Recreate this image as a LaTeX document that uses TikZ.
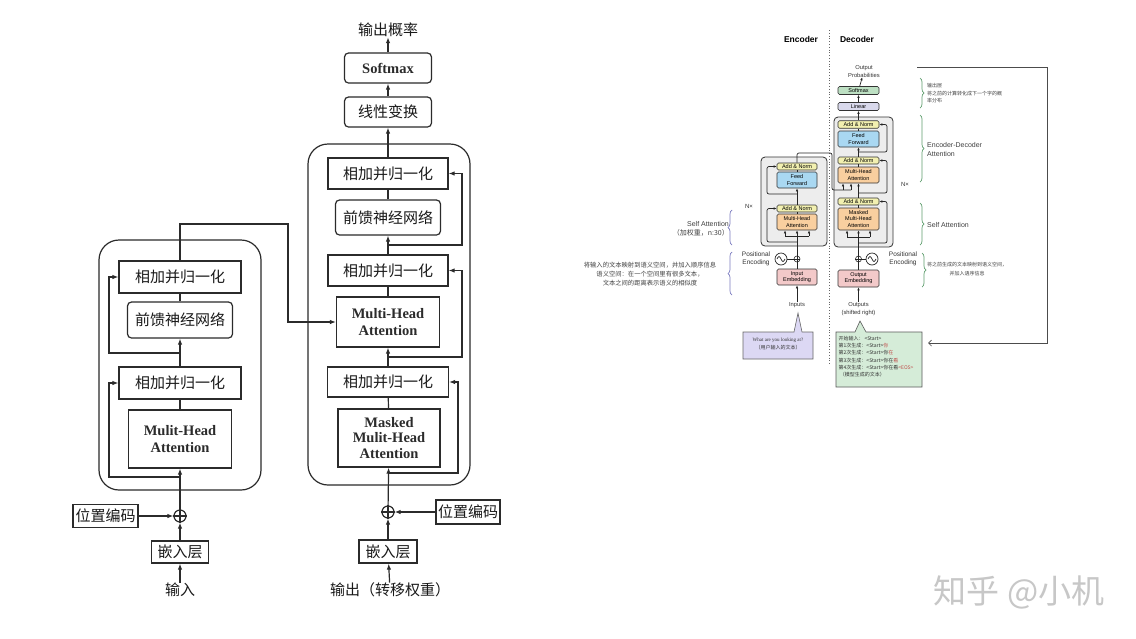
\documentclass[tikz,border=0pt]{standalone}
\usepackage{fontspec}
\setmainfont{Liberation Serif}
\newfontfamily\cjk{Noto Sans CJK SC}
\newfontfamily\rsans{Liberation Sans}
\usetikzlibrary{arrows.meta,decorations.pathreplacing,calc}
\definecolor{lc}{HTML}{2B2B2B}
\definecolor{anc}{HTML}{F2F0B0}
\definecolor{ffc}{HTML}{A9D8F2}
\definecolor{mhc}{HTML}{F9CF9F}
\definecolor{embc}{HTML}{F3C9C9}
\definecolor{smc}{HTML}{BDE0C3}
\definecolor{linc}{HTML}{D9D9EC}
\definecolor{contc}{HTML}{EDEDED}
\definecolor{brg}{HTML}{5F9E6E}
\definecolor{brb}{HTML}{7B7BC0}
\definecolor{pcall}{HTML}{DCD8F4}
\definecolor{gcall}{HTML}{D5ECD8}
\definecolor{tokred}{HTML}{C0504D}
\begin{document}
\begin{tikzpicture}[x=1pt,y=-1pt,
  sz/.style 2 args={minimum width=#1pt,minimum height=#2pt},
  L/.style={draw=lc,line width=1.2pt,inner sep=0pt,align=center},
  Lcn/.style={font=\cjk\fontsize{15}{18}\selectfont,text=black!90},
  Len/.style={font=\bfseries\fontsize{14.5}{17}\selectfont,text=lc},
  Len3/.style={font=\bfseries\fontsize{14.5}{15.5}\selectfont,text=lc},
  lline/.style={draw=lc,line width=1.2pt},
  larr/.style={lline,-{Latex[length=6pt,width=4.5pt]}},
  R/.style={draw=black!80,line width=0.6pt,rounded corners=1.5pt,inner sep=0pt,align=center,font=\rsans\fontsize{5.5}{6.2}\selectfont},
  Rt/.style={align=center,inner sep=0pt,font=\rsans\fontsize{5.8}{8}\selectfont,text=black!80},
  rline/.style={draw=black!85,line width=0.7pt},
  rarr/.style={rline,-{Latex[length=3pt,width=2.5pt]}},
  brR/.style={draw=brg,line width=0.7pt,decorate,decoration={brace,amplitude=4pt}},
  brL/.style={draw=brb,line width=0.7pt,decorate,decoration={brace,amplitude=4pt}}]
\fill[white] (0,0) rectangle (1136,638);
\useasboundingbox (0,0) rectangle (1136,638);

% ================= LEFT DIAGRAM =================
% decoder side
\node[L,sz={162}{341},rounded corners=20pt] (ldcont) at (389,314.5) {};
\node[Lcn,inner sep=0pt] (lprob) at (388,30) {输出概率};
\node[L,Len,rounded corners=4pt,sz={87}{30}] (lsm) at (388,68) {Softmax};
\node[L,Lcn,rounded corners=4pt,sz={87}{30}] (llin) at (388,112) {线性变换};
\node[L,Lcn,sz={120}{31}] (ldan1) at (388,173.5) {相加并归一化};
\node[L,Lcn,rounded corners=4pt,sz={105}{35}] (ldff) at (388,217.5) {前馈神经网络};
\node[L,Lcn,sz={120}{31}] (ldan2) at (388,270.5) {相加并归一化};
\node[L,Len,sz={103}{50}] (ldmha) at (388,322) {Multi-Head\\Attention};
\node[L,Lcn,sz={121}{30}] (ldan3) at (388,382) {相加并归一化};
\node[L,Len3,sz={102}{58}] (ldmm) at (389,438) {Masked\\Mulit-Head\\Attention};
\node[L,circle,minimum size=12pt] (ldplus) at (388,512) {};
\node[L,Lcn,sz={64}{24}] (ldpos) at (468,512) {位置编码};
\node[L,Lcn,sz={58}{23}] (ldemb) at (388,551.5) {嵌入层};
\node[Lcn,inner sep=0pt] (ldout) at (390,590) {输出（转移权重）};

% encoder side
\node[L,sz={162}{250},rounded corners=20pt] (lecont) at (180,365) {};
\node[L,Lcn,sz={122}{32}] (lean1) at (180,277) {相加并归一化};
\node[L,Lcn,rounded corners=4pt,sz={105}{36}] (leff) at (180,320) {前馈神经网络};
\node[L,Lcn,sz={122}{32}] (lean2) at (180,383) {相加并归一化};
\node[L,Len,sz={103}{58}] (lemha) at (180,439) {Mulit-Head\\Attention};
\node[L,circle,minimum size=12pt] (leplus) at (180,516) {};
\node[L,Lcn,sz={65}{23}] (lepos) at (105.5,516) {位置编码};
\node[L,Lcn,sz={57}{22}] (leemb) at (180,552) {嵌入层};
\node[Lcn,inner sep=0pt] (lein) at (180,590) {输入};

\draw[lline] (leplus.north) -- (leplus.south) (leplus.west) -- (leplus.east);
\draw[lline] (ldplus.north) -- (ldplus.south) (ldplus.west) -- (ldplus.east);

% encoder connectors
\draw[larr] (lein) -- (leemb);
\draw[larr] (leemb) -- (leplus);
\draw[larr] (lepos) -- (leplus);
\draw[larr] (leplus) -- (lemha);
\draw[lline] (lemha) -- (lean2);
\draw[larr] (lean2) -- (leff);
\draw[lline] (leff) -- (lean1);
\coordinate (ler2) at (180,477); \coordinate (ler2b) at (109,477);
\draw[larr] (ler2) -- (ler2b) |- (lean2);
\coordinate (ler1) at (180,353); \coordinate (ler1b) at (109,353);
\draw[larr] (ler1) -- (ler1b) |- (lean1);
\coordinate (le1) at (180,224); \coordinate (le2) at (288,224);
\draw[larr] (lean1) -- (le1) -- (le2) |- (ldmha);

% decoder connectors
\draw[larr] (ldout) -- (ldemb);
\draw[larr] (ldemb) -- (ldplus);
\draw[larr] (ldpos) -- (ldplus);
\draw[larr] (ldplus) -- (ldmm);
\draw[lline] (ldmm) -- (ldan3);
\draw[larr] (ldan3) -- (ldmha);
\draw[lline] (ldmha) -- (ldan2);
\draw[larr] (ldan2) -- (ldff);
\draw[lline] (ldff) -- (ldan1);
\draw[larr] (ldan1) -- (llin);
\draw[larr] (llin) -- (lsm);
\draw[larr] (lsm) -- (lprob);
\coordinate (ldr3) at (388,473); \coordinate (ldr3b) at (458,473);
\draw[larr] (ldr3) -- (ldr3b) |- (ldan3);
\coordinate (ldr2) at (388,357); \coordinate (ldr2b) at (462,357);
\draw[larr] (ldr2) -- (ldr2b) |- (ldan2);
\coordinate (ldr1) at (388,245); \coordinate (ldr1b) at (462,245);
\draw[larr] (ldr1) -- (ldr1b) |- (ldan1);

% ================= RIGHT DIAGRAM =================
\node[font=\rsans\bfseries\fontsize{8.5}{10}\selectfont] (renc) at (801,39) {Encoder};
\node[font=\rsans\bfseries\fontsize{8.5}{10}\selectfont] (rdec) at (857,39) {Decoder};
\coordinate (dtop) at (829,30); \coordinate (dbot) at (829,365);
\draw[black!60,line width=0.8pt,dotted] (dtop) -- (dbot);

% decoder
\node[draw=black!80,fill=contc,rounded corners=4pt,line width=0.8pt,sz={59}{130}] (rdcont) at (863.5,182) {};
\node[Rt] (rprob) at (864,71) {Output\\Probabilities};
\node[R,fill=smc,sz={41}{8}] (rsm) at (858.5,90.5) {Softmax};
\node[R,fill=linc,sz={41}{8}] (rlin) at (858.5,106.5) {Linear};
\node[R,fill=anc,sz={41}{7.5}] (rdan1) at (858.5,124.5) {Add \& Norm};
\node[R,fill=ffc,sz={41}{16}] (rdff) at (858.5,139) {Feed\\Forward};
\node[R,fill=anc,sz={41}{7}] (rdan2) at (858.5,160.5) {Add \& Norm};
\node[R,fill=mhc,sz={41}{16}] (rdmha) at (858.5,175) {Multi-Head\\Attention};
\node[R,fill=anc,sz={41}{7}] (rdan3) at (858.5,201.5) {Add \& Norm};
\node[R,fill=mhc,sz={41}{22}] (rdmm) at (858.5,219) {Masked\\Multi-Head\\Attention};
\node[circle,draw=black!85,line width=0.6pt,inner sep=0pt,minimum size=6pt] (rdplus) at (858.5,259) {};
\node[circle,draw=black!85,line width=0.7pt,inner sep=0pt,minimum size=12pt] (rdsin) at (872,259) {};
\node[R,fill=embc,sz={41}{17}] (rdemb) at (858.5,278.5) {Output\\Embedding};
\node[Rt] (routs) at (858.5,309) {Outputs\\(shifted right)};
\node[Rt,font=\rsans\fontsize{6.5}{8}\selectfont] (rdpe) at (903,259) {Positional\\Encoding};
\node[Rt,font=\rsans\fontsize{6}{8}\selectfont] (rdnx) at (905,184) {N×};

% encoder
\node[draw=black!80,fill=contc,rounded corners=4pt,line width=0.8pt,sz={66}{89}] (recont) at (794,201.5) {};
\node[R,fill=anc,sz={40}{7}] (rean1) at (797,166.5) {Add \& Norm};
\node[R,fill=ffc,sz={40}{16}] (reff) at (797,180) {Feed\\Forward};
\node[R,fill=anc,sz={40}{7}] (rean2) at (797,208.5) {Add \& Norm};
\node[R,fill=mhc,sz={40}{16}] (remha) at (797,222) {Multi-Head\\Attention};
\node[circle,draw=black!85,line width=0.6pt,inner sep=0pt,minimum size=6pt] (replus) at (797,259) {};
\node[circle,draw=black!85,line width=0.7pt,inner sep=0pt,minimum size=12pt] (resin) at (781,259) {};
\node[R,fill=embc,sz={40}{16}] (reemb) at (797,277) {Input\\Embedding};
\node[Rt] (rins) at (797,305) {Inputs};
\node[Rt,font=\rsans\fontsize{6.5}{8}\selectfont] (repe) at (756,259) {Positional\\Encoding};
\node[Rt,font=\rsans\fontsize{6}{8}\selectfont] (renx) at (749,206) {N×};

% plus signs and sine waves
\draw[rline,line width=0.5pt] (replus.north) -- (replus.south) (replus.west) -- (replus.east);
\draw[rline,line width=0.5pt] (rdplus.north) -- (rdplus.south) (rdplus.west) -- (rdplus.east);
\draw[rline] ([xshift=-4pt]resin.center) sin ++(2,-2.5) cos ++(2,2.5) sin ++(2,2.5) cos ++(2,-2.5);
\draw[rline] ([xshift=-4pt]rdsin.center) sin ++(2,-2.5) cos ++(2,2.5) sin ++(2,2.5) cos ++(2,-2.5);

% encoder connectors
\draw[rarr] (rins) -- (reemb);
\draw[rline] (reemb) -- (replus);
\draw[rline] (resin) -- (replus);
\coordinate (rej) at (797,236); \coordinate (rej1) at (785,236); \coordinate (rej3) at (809,236);
\draw[rline] (replus) -- (rej);
\draw[rline] (rej1) -- (rej3);
\draw[rarr] (rej) -- (remha);
\draw[rarr] (rej1) -- (rej1 |- remha.south);
\draw[rarr] (rej3) -- (rej3 |- remha.south);
\draw[rline] (remha) -- (rean2);
\draw[rarr] (rean2) -- (reff);
\draw[rline] (reff) -- (rean1);
\coordinate (rer2) at (797,242); \coordinate (rer2b) at (767,242);
\draw[rarr,rounded corners=2pt] (rer2) -- (rer2b) |- (rean2);
\coordinate (rer1) at (797,194); \coordinate (rer1b) at (767,194);
\draw[rarr,rounded corners=2pt] (rer1) -- (rer1b) |- (rean1);
\coordinate (reo1) at (797,153); \coordinate (reo2) at (832,153);
\coordinate (reo3) at (832,190); \coordinate (reo4) at (851,190); \coordinate (reo5) at (843,190);
\draw[rline,rounded corners=2pt] (rean1) -- (reo1) -- (reo2) -- (reo3) -- (reo4);
\draw[rarr] (reo5) -- (reo5 |- rdmha.south);
\draw[rarr] (reo4) -- (reo4 |- rdmha.south);

% decoder connectors
\draw[rarr] (routs) -- (rdemb);
\draw[rline] (rdemb) -- (rdplus);
\draw[rline] (rdsin) -- (rdplus);
\coordinate (rdj) at (858.5,237); \coordinate (rdj1) at (847,237); \coordinate (rdj3) at (870,237);
\draw[rline] (rdplus) -- (rdj);
\draw[rline] (rdj1) -- (rdj3);
\draw[rarr] (rdj) -- (rdmm);
\draw[rarr] (rdj1) -- (rdj1 |- rdmm.south);
\draw[rarr] (rdj3) -- (rdj3 |- rdmm.south);
\draw[rline] (rdmm) -- (rdan3);
\draw[rarr] (rdan3) -- (rdmha);
\draw[rline] (rdmha) -- (rdan2);
\draw[rarr] (rdan2) -- (rdff);
\draw[rline] (rdff) -- (rdan1);
\draw[rarr] (rdan1) -- (rlin);
\draw[rarr] (rlin) -- (rsm);
\draw[rarr] (rsm) -- (rprob);
\coordinate (rdr3) at (858.5,243); \coordinate (rdr3b) at (887,243);
\draw[rarr,rounded corners=2pt] (rdr3) -- (rdr3b) |- (rdan3);
\coordinate (rdr2) at (858.5,193); \coordinate (rdr2b) at (887,193);
\draw[rarr,rounded corners=2pt] (rdr2) -- (rdr2b) |- (rdan2);
\coordinate (rdr1) at (858.5,152); \coordinate (rdr1b) at (887,152);
\draw[rarr,rounded corners=2pt] (rdr1) -- (rdr1b) |- (rdan1);

% braces and annotations
\draw[brR] (920,78) -- (920,108);
\node[anchor=west,align=left,inner sep=0pt,font=\cjk\fontsize{5}{7.5}\selectfont,text=black!75] (ann1) at (927,93.5) {输出层\\将之前的计算转化成下一个字的概\\率分布};
\draw[brR] (920,115) -- (920,182);
\node[anchor=west,align=left,inner sep=0pt,font=\rsans\fontsize{7}{9}\selectfont,text=black!75] (ann2) at (927,149.5) {Encoder-Decoder\\Attention};
\draw[brR] (920,203) -- (920,245);
\node[anchor=west,inner sep=0pt,font=\rsans\fontsize{7}{9}\selectfont,text=black!75] (ann3) at (927,225) {Self Attention};
\draw[brR] (922,253) -- (922,287);
\node[align=center,inner sep=0pt,font=\cjk\fontsize{5}{9}\selectfont,text=black!75] (ann4) at (967,269.5) {将之前生成的文本映射到语义空间，\\并加入语序信息};
\draw[brL] (732,245) -- (732,210);
\node[anchor=east,align=right,inner sep=0pt,font=\rsans\fontsize{7}{9}\selectfont,text=black!75] (ann5) at (729,228.5) {Self Attention\\{\cjk（加权重，n:30）}};
\draw[brL] (732,295) -- (732,252);
\node[align=center,inner sep=0pt,font=\cjk\fontsize{6.3}{9}\selectfont,text=black!75] (ann6) at (650,274) {将输入的文本映射到语义空间，并加入顺序信息\\语义空间：在一个空间里有很多文本，\\文本之间的距离表示语义的相似度};

% callouts
\filldraw[fill=pcall,draw=black!60,line width=0.6pt] (743,332) -- (794,332) -- (798,313) -- (802,332) -- (813,332) -- (813,359) -- (743,359) -- cycle;
\node[align=center,inner sep=0pt,font=\fontsize{5}{8}\selectfont,text=black!80] (pct) at (778,344) {What are you looking at?\\{\cjk（用户输入的文本）}};
\filldraw[fill=gcall,draw=black!65,line width=0.6pt] (836,332) -- (855,332) -- (860,321) -- (866,332) -- (922,332) -- (922,387) -- (836,387) -- cycle;
\node[anchor=north west,align=left,inner sep=0pt,font=\cjk\fontsize{5}{7.2}\selectfont,text=black!80] (gct) at (838.5,336) {开始输入：\,<Start>\\第1次生成：<Start>\textcolor{tokred}{你}\\第2次生成：<Start>你\textcolor{tokred}{在}\\第3次生成：<Start>你在\textcolor{tokred}{看}\\第4次生成：<Start>你在看\textcolor{tokred}{<EOS>}\\\ （模型生成的文本）};

% feedback arrow
\coordinate (fb0) at (917,67); \coordinate (fb1) at (1047,67);
\coordinate (fb2) at (1047,343); \coordinate (fb3) at (928,343);
\draw[black!70,line width=0.7pt,-{Straight Barb[length=3pt,width=6pt]}] (fb0) -- (fb1) -- (fb2) -- (fb3);

% watermark
\node[font=\cjk\fontsize{33}{35}\selectfont,text=black!22] (wm) at (1019,592) {知乎 @小机};
\end{tikzpicture}
\end{document}
